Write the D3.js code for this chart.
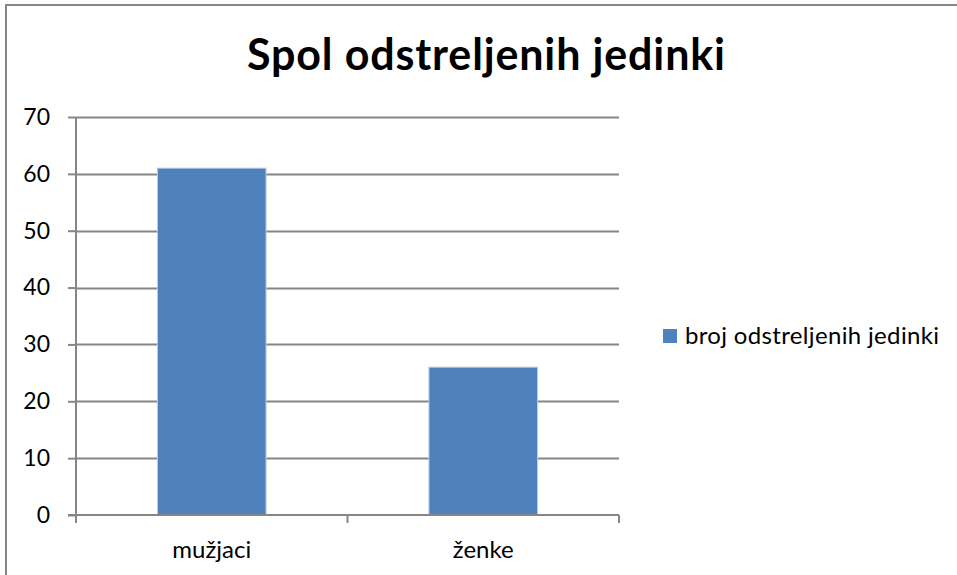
<!DOCTYPE html>
<html>
<head>
<meta charset="utf-8">
<script src="https://cdn.jsdelivr.net/npm/d3@7"></script>
<style>
  html, body { margin: 0; padding: 0; background: #fff; }
  #chart { width: 957px; height: 575px; }
</style>
</head>
<body>
<div id="chart"></div>
<script>
(function() {
  var categories = ['mužjaci', 'ženke'];
  var values = [61, 26];
  var seriesName = 'broj odstreljenih jedinki';
  var yTicks = [0, 10, 20, 30, 40, 50, 60, 70];
  var title = 'Spol odstreljenih jedinki';

  var FONT = 'Lato, "Open Sans", sans-serif';
  var W = 957, H = 575;
  var m = { left: 76, right: 338, top: 117, bottom: 60 };
  var barColor = '#4f81bd', gridColor = '#868686';

  var svg = d3.select('#chart').append('svg').attr('width', W).attr('height', H);

  // outer frame (runs off right and bottom edges)
  svg.append('rect').attr('x', 6).attr('y', 5).attr('width', W + 10).attr('height', H + 10)
    .attr('fill', '#fff').attr('stroke', '#868686').attr('stroke-width', 2);

  svg.append('text').attr('x', 247).attr('y', 70)
    .attr('font-family', FONT).attr('font-weight', 700).attr('font-size', '43px')
    .attr('textLength', 478).attr('lengthAdjust', 'spacing')
    .attr('fill', '#000').text(title);

  var x = d3.scaleBand().domain(categories).range([m.left, W - m.right])
    .paddingInner(0.6).paddingOuter(0.3);
  var y = d3.scaleLinear().domain([0, 70]).range([H - m.bottom, m.top]);

  // gridlines
  svg.append('g').selectAll('line').data(yTicks.slice(1)).join('line')
    .attr('x1', m.left).attr('x2', W - m.right)
    .attr('y1', function(d) { return Math.round(y(d)) + 0.5; })
    .attr('y2', function(d) { return Math.round(y(d)) + 0.5; })
    .attr('stroke', gridColor).attr('stroke-width', 2);

  // bars
  svg.append('g').selectAll('rect').data(values).join('rect')
    .attr('x', function(d, i) { return x(categories[i]); })
    .attr('y', function(d) { return y(d); })
    .attr('width', x.bandwidth())
    .attr('height', function(d) { return y(0) - y(d); })
    .attr('fill', barColor).attr('stroke', '#b9cde5').attr('stroke-width', 1);

  // y axis
  var yAxis = d3.axisLeft(y).tickValues(yTicks).tickSize(8).tickPadding(18);
  var gy = svg.append('g').attr('transform', 'translate(' + m.left + ',0)').call(yAxis);
  gy.select('.domain').attr('stroke', gridColor).attr('stroke-width', 2).attr('d', 'M0,' + y(70) + 'V' + y(0));
  gy.selectAll('.tick line').attr('stroke', gridColor).attr('stroke-width', 2);
  gy.selectAll('.tick text').attr('font-family', FONT).attr('font-size', '23px').attr('fill', '#000');

  // x axis with ticks at band boundaries
  var gx = svg.append('g').attr('transform', 'translate(0,' + y(0) + ')');
  gx.append('line').attr('x1', m.left - 8).attr('x2', W - m.right)
    .attr('stroke', gridColor).attr('stroke-width', 2);
  var bounds = [m.left, m.left + x.step(), W - m.right];
  gx.selectAll('.xt').data(bounds).join('line').attr('class', 'xt')
    .attr('x1', function(d) { return d; }).attr('x2', function(d) { return d; })
    .attr('y1', 0).attr('y2', 8).attr('stroke', gridColor).attr('stroke-width', 2);
  gx.selectAll('.xl').data(categories).join('text').attr('class', 'xl')
    .attr('x', function(d) { return x(d) + x.bandwidth() / 2; }).attr('y', 43)
    .attr('text-anchor', 'middle').attr('font-family', FONT).attr('font-size', '24px')
    .attr('fill', '#000').text(function(d) { return d; });

  // legend
  var lg = svg.append('g').attr('transform', 'translate(663,329)');
  lg.append('rect').attr('width', 14).attr('height', 14).attr('fill', barColor);
  lg.append('text').attr('x', 22).attr('y', 15).attr('font-family', FONT).attr('font-size', '24px')
    .attr('textLength', 254).attr('lengthAdjust', 'spacing')
    .attr('fill', '#000').text(seriesName);
})();
</script>
</body>
</html>
